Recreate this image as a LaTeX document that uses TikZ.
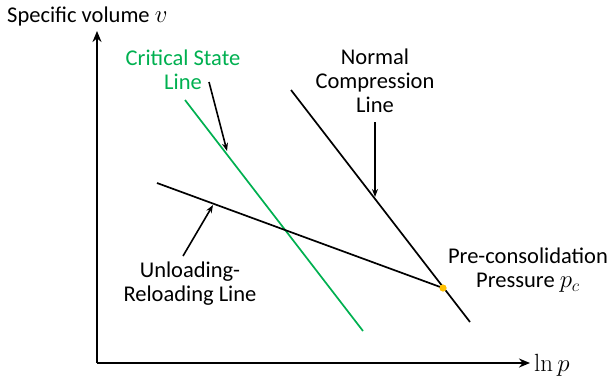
\documentclass[tikz,border=0pt]{standalone}
\usepackage[no-math]{fontspec}
\setmainfont{Carlito}
\usetikzlibrary{arrows.meta}
\definecolor{csl}{HTML}{00B050}
\definecolor{dotc}{HTML}{FFC000}
\newcommand{\mymath}[1]{\scalebox{1.2}{$#1$}}
\begin{document}
\begin{tikzpicture}[x=1pt,y=-1pt,
  lbl/.style={font=\fontsize{22.5}{24}\selectfont,align=center,inner sep=0pt},
  axis/.style={line width=2.4pt,-{Stealth[length=11pt,width=9pt]}},
  soil/.style={line width=1.7pt},
  pointer/.style={line width=1.6pt,-{Stealth[length=8pt,width=6pt]}}]
\useasboundingbox (0,0) rectangle (610,378);
% axes
\coordinate (O) at (97,363);
\coordinate (ytip) at (97,31);
\coordinate (xtip) at (530,363);
\draw[axis] (O) -- (ytip);
\draw[axis] (O) -- (xtip);
\node[lbl,anchor=west] (ylab) at (7,16) {Specific volume \mymath{v}};
\node[lbl,anchor=west] (xlab) at (534,365) {\mymath{\ln p}};
% lines
\coordinate (c1) at (185,100); \coordinate (c2) at (363,331);
\coordinate (n1) at (291,90); \coordinate (n2) at (470,322);
\coordinate (u1) at (157,183); \coordinate (pc) at (443,288);
\draw[soil,csl] (c1) -- (c2);
\draw[soil] (n1) -- (n2);
\draw[soil] (u1) -- (pc);
\fill[dotc] (pc) circle (3.6pt);
% labels
\node[lbl,text=csl] (cslab) at (183,70) {Critical State\\Line};
\node[lbl] (nclab) at (375,81) {Normal\\Compression\\Line};
\node[lbl] (urlab) at (190,284) {Unloading-\\Reloading Line};
\node[lbl] (pclab) at (528,270) {Pre-consolidation\\Pressure \mymath{p_c}};
% pointers
\coordinate (a1) at (209,82); \coordinate (a1e) at (227,151);
\coordinate (a2) at (375,122); \coordinate (a2e) at (375,197);
\coordinate (a3) at (183,256); \coordinate (a3e) at (213,205);
\draw[pointer] (a1) -- (a1e);
\draw[pointer] (a2) -- (a2e);
\draw[pointer] (a3) -- (a3e);
\end{tikzpicture}
\end{document}
